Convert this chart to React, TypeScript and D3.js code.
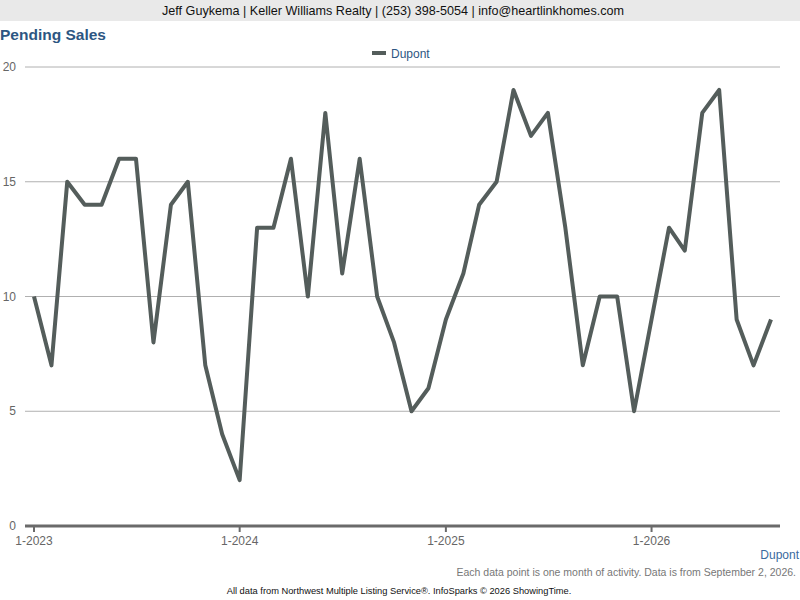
import {useEffect, useRef} from "react";
import * as d3 from "d3";

// Monthly pending sales, Jan 2023 .. Aug 2026
const months: string[] = [
  "2023-01", "2023-02", "2023-03", "2023-04", "2023-05", "2023-06",
  "2023-07", "2023-08", "2023-09", "2023-10", "2023-11", "2023-12",
  "2024-01", "2024-02", "2024-03", "2024-04", "2024-05", "2024-06",
  "2024-07", "2024-08", "2024-09", "2024-10", "2024-11", "2024-12",
  "2025-01", "2025-02", "2025-03", "2025-04", "2025-05", "2025-06",
  "2025-07", "2025-08", "2025-09", "2025-10", "2025-11", "2025-12",
  "2026-01", "2026-02", "2026-03", "2026-04", "2026-05", "2026-06",
  "2026-07", "2026-08",
];
const dupont: number[] = [
  10, 7, 15, 14, 14, 16, 16, 8, 14, 15, 7, 4,
  2, 13, 13, 16, 10, 18, 11, 16, 10, 8, 5, 6,
  9, 11, 14, 15, 19, 17, 18, 13, 7, 10, 10, 5,
  9, 13, 12, 18, 19, 9, 7, 9,
];
const yTicks: number[] = [0, 5, 10, 15, 20];
const xTickLabels: string[] = ["2023-01", "2024-01", "2025-01", "2026-01"];

const FONT = "Arial, 'Liberation Sans', Helvetica, sans-serif";

export default function App() {
  const svgRef = useRef<SVGSVGElement>(null);

  useEffect(() => {
    if (!svgRef.current) return;
    const width = 800;
    const height = 600;
    const parse = d3.timeParse("%Y-%m");
    const dates = months.map((m) => parse(m) as Date);

    const svg = d3.select(svgRef.current);
    svg.selectAll("*").remove();

    svg.append("rect").attr("width", width).attr("height", height).attr("fill", "#fff");

    // banner
    svg.append("rect").attr("width", width).attr("height", 21).attr("fill", "#e9e9e9");
    svg
      .append("text")
      .attr("x", 393)
      .attr("y", 15)
      .attr("text-anchor", "middle")
      .style("font-family", FONT)
      .style("font-size", "12.6px")
      .attr("fill", "#111")
      .text("Jeff Guykema | Keller Williams Realty | (253) 398-5054 | info@heartlinkhomes.com");

    svg
      .append("text")
      .attr("x", 0)
      .attr("y", 40)
      .style("font-family", FONT)
      .style("font-size", "15.5px")
      .style("font-weight", "bold")
      .attr("fill", "#2d5682")
      .text("Pending Sales");

    // legend
    svg
      .append("line")
      .attr("x1", 372)
      .attr("x2", 386)
      .attr("y1", 53)
      .attr("y2", 53)
      .attr("stroke", "#545d5b")
      .attr("stroke-width", 4);
    svg
      .append("text")
      .attr("x", 391)
      .attr("y", 58)
      .style("font-family", FONT)
      .style("font-size", "12px")
      .attr("fill", "#2d5682")
      .text("Dupont");

    const x = d3
      .scaleTime()
      .domain([dates[0], dates[dates.length - 1]])
      .range([34, 771]);
    const y = d3.scaleLinear().domain([0, 20]).range([526, 67]);

    // grid lines + y labels
    const grid = svg.append("g");
    yTicks.forEach((t) => {
      if (t > 0) {
        grid
          .append("line")
          .attr("x1", 25)
          .attr("x2", 780)
          .attr("y1", y(t))
          .attr("y2", y(t))
          .attr("stroke", "#b0b0b0")
          .attr("stroke-width", 1);
      }
      grid
        .append("text")
        .attr("x", 16)
        .attr("y", y(t) + 4)
        .attr("text-anchor", "end")
        .style("font-family", FONT)
        .style("font-size", "12px")
        .attr("fill", "#666")
        .text(t);
    });

    // x axis
    svg
      .append("line")
      .attr("x1", 25)
      .attr("x2", 780)
      .attr("y1", y(0))
      .attr("y2", y(0))
      .attr("stroke", "#6a6a6a")
      .attr("stroke-width", 3);
    xTickLabels.forEach((m) => {
      const d = parse(m) as Date;
      svg
        .append("line")
        .attr("x1", x(d))
        .attr("x2", x(d))
        .attr("y1", y(0))
        .attr("y2", y(0) + 6)
        .attr("stroke", "#6a6a6a")
        .attr("stroke-width", 2);
      svg
        .append("text")
        .attr("x", x(d))
        .attr("y", 545)
        .attr("text-anchor", "middle")
        .style("font-family", FONT)
        .style("font-size", "12px")
        .attr("fill", "#666")
        .text(d3.timeFormat("%-m-%Y")(d));
    });

    // series line
    const line = d3
      .line<number>()
      .x((_, i) => x(dates[i]))
      .y((v) => y(v));
    svg
      .append("path")
      .datum(dupont)
      .attr("d", line)
      .attr("fill", "none")
      .attr("stroke", "#545d5b")
      .attr("stroke-width", 4)
      .attr("stroke-linejoin", "round");

    svg
      .append("text")
      .attr("x", 799)
      .attr("y", 559)
      .attr("text-anchor", "end")
      .style("font-family", FONT)
      .style("font-size", "12px")
      .attr("fill", "#3a6a9e")
      .text("Dupont");

    svg
      .append("text")
      .attr("x", 796)
      .attr("y", 576)
      .attr("text-anchor", "end")
      .style("font-family", FONT)
      .style("font-size", "10.5px")
      .attr("fill", "#777")
      .text("Each data point is one month of activity. Data is from September 2, 2026.");

    svg
      .append("text")
      .attr("x", 399)
      .attr("y", 594)
      .attr("text-anchor", "middle")
      .style("font-family", FONT)
      .style("font-size", "9.3px")
      .attr("fill", "#111")
      .text("All data from Northwest Multiple Listing Service\u00ae. InfoSparks \u00a9 2026 ShowingTime.");
  }, []);

  return (
    <svg
      ref={svgRef}
      width={800}
      height={600}
      style={{position: "fixed", left: 0, top: 0, display: "block"}}
    />
  );
}
